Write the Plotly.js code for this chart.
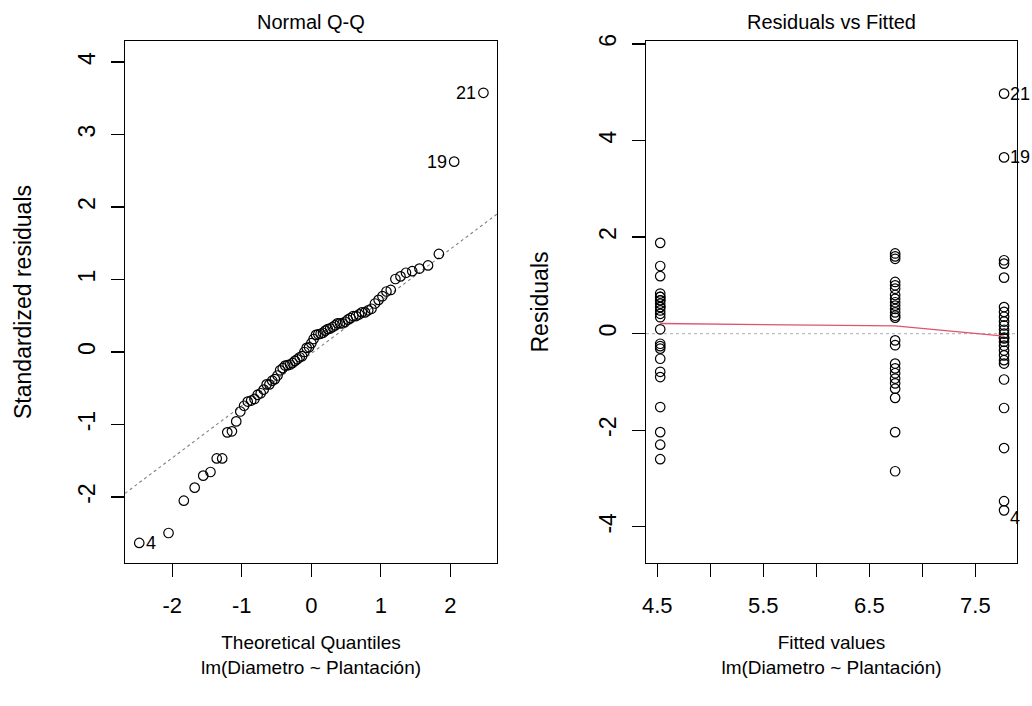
<!DOCTYPE html>
<html>
<head>
<meta charset="utf-8">
<script src="https://cdn.plot.ly/plotly-3.0.1.min.js"></script>
<style>html,body{margin:0;padding:0;background:#fff;}#chart{width:1032px;height:706px;}</style>
</head>
<body>
<div id="chart"></div>
<script>
// ---- data ----
const fittedLevels = [4.528, 6.743, 7.770];
const residGroup1 = [1.88, 1.40, 1.19, 0.83, 0.76, 0.76, 0.69, 0.69, 0.62, 0.55, 0.55, 0.48, 0.41, 0.34, 0.09,
  -0.21, -0.26, -0.31, -0.52, -0.79, -0.90, -1.52, -2.04, -2.30, -2.60];
const residGroup2 = [1.66, 1.60, 1.55, 1.07, 1.00, 0.93, 0.80, 0.72, 0.65, 0.58, 0.51, 0.44, 0.37, 0.33,
  -0.14, -0.24, -0.62, -0.72, -0.82, -0.93, -1.03, -1.14, -1.33, -2.04, -2.85];
const residGroup3 = [4.97, 3.65, 1.52, 1.45, 1.16, 0.55, 0.45, 0.35, 0.25, 0.17, 0.08, 0.00, -0.08, -0.10,
  -0.17, -0.25, -0.35, -0.45, -0.55, -0.62, -0.95, -1.54, -2.37, -3.47, -3.66];
const residScale = 1.39; // sigma * sqrt(1 - h): residual -> standardized residual
const theoreticalQuantiles = [
  -2.475, -2.054, -1.834, -1.678, -1.555, -1.451, -1.361, -1.282, -1.209, -1.142,
  -1.080, -1.022, -0.967, -0.915, -0.865, -0.818, -0.772, -0.728, -0.685, -0.643,
  -0.603, -0.563, -0.524, -0.486, -0.449, -0.412, -0.376, -0.341, -0.305, -0.271,
  -0.236, -0.202, -0.168, -0.134, -0.100, -0.067, -0.033, 0.000, 0.033, 0.067,
  0.100, 0.134, 0.168, 0.202, 0.236, 0.271, 0.305, 0.341, 0.376, 0.412,
  0.449, 0.486, 0.524, 0.563, 0.603, 0.643, 0.685, 0.728, 0.772, 0.818,
  0.865, 0.915, 0.967, 1.022, 1.080, 1.142, 1.209, 1.282, 1.361, 1.451,
  1.555, 1.678, 1.834, 2.054, 2.475];
const qqLineIntercept = -0.02;
const qqLineSlope = 0.72;
const smoothY = [0.21, 0.16, -0.05];
const labeledIds = ['21', '19', '4'];
const labeledResid = [4.97, 3.65, -3.66];
const qqXTicks = [-2, -1, 0, 1, 2];
const qqXTickText = ['-2', '-1', '0', '1', '2'];
const qqYTicks = [-2, -1, 0, 1, 2, 3, 4];
const qqYTickText = ['-2', '-1', '0', '1', '2', '3', '4'];
const rfXTicks = [4.5, 5.0, 5.5, 6.0, 6.5, 7.0, 7.5];
const rfXTickText = ['4.5', '', '5.5', '', '6.5', '', '7.5'];
const rfYTicks = [-4, -2, 0, 2, 4, 6];
const rfYTickText = ['-4', '-2', '0', '2', '4', '6'];
const titles = ['Normal Q-Q', 'Residuals vs Fitted'];
const xTitles = ['Theoretical Quantiles', 'Fitted values'];
const subCaption = 'lm(Diametro ~ Plantación)';
const yTitles = ['Standardized residuals', 'Residuals'];

// ---- build ----
const groups = [residGroup1, residGroup2, residGroup3];
const fx = [], fy = [];
groups.forEach((g, i) => g.forEach(r => { fx.push(fittedLevels[i]); fy.push(r); }));
const stdSorted = fy.map(r => r / residScale).sort((a, b) => a - b);

const qqRange = [-2.68, 2.67];
const FONT = 'Liberation Sans, Arial, Helvetica, sans-serif';
const marker = {symbol: 'circle-open', size: 9.5, color: '#000', line: {width: 1.2, color: '#000'}};

const traces = [
  {x: qqRange, y: qqRange.map(v => qqLineIntercept + qqLineSlope * v), xaxis: 'x', yaxis: 'y',
   mode: 'lines', line: {color: '#808080', dash: 'dot', width: 1.1}, hoverinfo: 'skip'},
  {x: theoreticalQuantiles, y: stdSorted, xaxis: 'x', yaxis: 'y', mode: 'markers', marker: marker},
  {x: fx, y: fy, xaxis: 'x2', yaxis: 'y2', mode: 'markers', marker: marker},
  {x: fittedLevels, y: smoothY, xaxis: 'x2', yaxis: 'y2', mode: 'lines',
   line: {color: '#DF536B', width: 1.3}}
];

const n = stdSorted.length;
const qqLabelPts = [
  {t: labeledIds[0], x: theoreticalQuantiles[n - 1], y: stdSorted[n - 1], side: 'left'},
  {t: labeledIds[1], x: theoreticalQuantiles[n - 2], y: stdSorted[n - 2], side: 'left'},
  {t: labeledIds[2], x: theoreticalQuantiles[0], y: stdSorted[0], side: 'right'}
];
const annotations = [];
qqLabelPts.forEach(p => annotations.push({
  xref: 'x', yref: 'y', x: p.x, y: p.y, text: p.t, showarrow: false,
  xanchor: p.side === 'left' ? 'right' : 'left', xshift: p.side === 'left' ? -5 : 5,
  font: {family: FONT, size: 18, color: '#000'}
}));
labeledResid.forEach((r, i) => annotations.push({
  xref: 'x2', yref: 'y2', x: fittedLevels[2], y: r, text: labeledIds[i], showarrow: false,
  xanchor: 'left', xshift: 4, yshift: i === 2 ? -8 : 0,
  font: {family: FONT, size: 18, color: '#000'}
}));
const cx = [(0.1211 + 0.4816) / 2, (0.626 + 0.9855) / 2];
titles.forEach((t, i) => annotations.push({
  xref: 'paper', yref: 'paper', x: cx[i], y: 1 - 22 / 706, text: t, showarrow: false,
  xanchor: 'center', yanchor: 'middle', font: {family: FONT, size: 20, color: '#000'}
}));

function xax(domain, range, tv, tt, title) {
  return {domain: domain, range: range, tickmode: 'array', tickvals: tv, ticktext: tt,
    showline: true, mirror: true, linecolor: '#000', linewidth: 1.2,
    ticks: 'outside', ticklen: 13, tickwidth: 1.2, tickcolor: '#000',
    showgrid: false, zeroline: false, automargin: false,
    tickfont: {family: FONT, size: 22, color: '#000'}, ticklabelstandoff: 9,
    title: {text: title + '<br>' + subCaption, font: {family: FONT, size: 19, color: '#000'}, standoff: 19}};
}
function yax(domain, range, tv, tt, title, anchor, standoff) {
  return {domain: domain, range: range, anchor: anchor, tickmode: 'array', tickvals: tv, ticktext: tt,
    showline: true, mirror: true, linecolor: '#000', linewidth: 1.2,
    ticks: 'outside', ticklen: 13, tickwidth: 1.2, tickcolor: '#000', tickangle: -90,
    showgrid: false, zeroline: false, automargin: false,
    tickfont: {family: FONT, size: 23, color: '#000'}, ticklabelstandoff: 7,
    title: {text: title, font: {family: FONT, size: 23, color: '#000'}, standoff: standoff}};
}
const yDom = [1 - 563 / 706, 1 - 41 / 706];
const layout = {
  width: 1032, height: 706, margin: {l: 0, r: 0, t: 0, b: 0},
  paper_bgcolor: '#fff', plot_bgcolor: '#fff', showlegend: false,
  font: {family: FONT, color: '#000'},
  xaxis: Object.assign(xax([125 / 1032, 497 / 1032], qqRange, qqXTicks, qqXTickText, xTitles[0]), {anchor: 'y'}),
  yaxis: yax(yDom, [-2.91, 4.29], qqYTicks, qqYTickText, yTitles[0], 'x', 35),
  xaxis2: Object.assign(xax([646 / 1032, 1017 / 1032], [4.394, 7.892], rfXTicks, rfXTickText, xTitles[1]), {anchor: 'y2'}),
  yaxis2: yax(yDom, [-4.75, 6.06], rfYTicks, rfYTickText, yTitles[1], 'x2', 39),
  shapes: [{type: 'line', xref: 'x2 domain', yref: 'y2', x0: 0, x1: 1, y0: 0, y1: 0,
    line: {color: '#BEBEBE', dash: 'dot', width: 1.1}, layer: 'below'}],
  annotations: annotations
};
Plotly.newPlot('chart', traces, layout, {displayModeBar: false, staticPlot: true});
</script>
</body>
</html>
